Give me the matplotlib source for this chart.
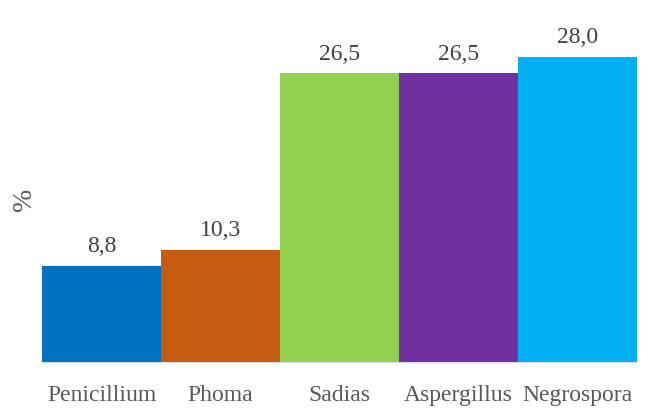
import matplotlib.pyplot as plt

genera = ["Penicillium", "Phoma", "Sadias", "Aspergillus", "Negrospora"]
percent = [8.8, 10.3, 26.5, 26.5, 28.0]
value_labels = ["8,8", "10,3", "26,5", "26,5", "28,0"]
colors = ["#0070c0", "#c55a11", "#92d050", "#7030a0", "#00b0f0"]

plt.rcParams['font.family'] = ['Liberation Serif', 'DejaVu Serif']

fig = plt.figure(figsize=(6.59, 4.14), dpi=100)
ax = fig.add_axes([42 / 659, 51 / 414, 595 / 659, 343 / 414])

x = range(len(genera))
ax.bar(x, percent, width=1.0, color=colors)
ax.set_xlim(-0.5, len(genera) - 0.5)
ax.set_ylim(0, 28 * 343 / 305)

for xi, v, lab in zip(x, percent, value_labels):
    ax.text(xi, v + 0.9, lab, ha="center", va="bottom", fontsize=17, color="#404040")

ax.set_xticks(list(x))
ax.set_xticklabels(genera, fontsize=17, color="#595959")
ax.tick_params(axis="x", length=0, pad=16)
ax.set_yticks([])
for s in ["top", "right", "left"]:
    ax.spines[s].set_visible(False)
ax.spines["bottom"].set_color("#d9d9d9")

fig.text(24 / 659, 1 - 199 / 414, "%", rotation=90, fontsize=20, color="#595959",
         ha="center", va="center")

fig.savefig("out.png", dpi=100)
